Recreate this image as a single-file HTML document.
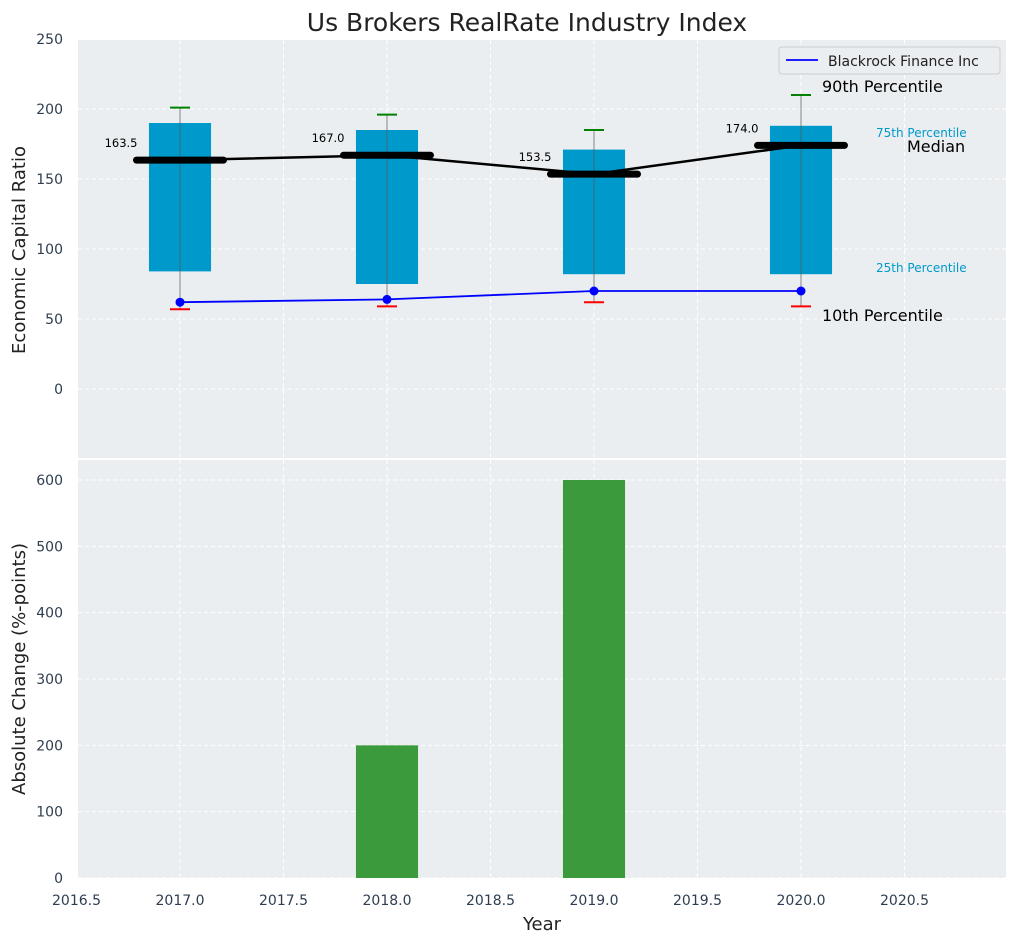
<!DOCTYPE html>
<html><head><meta charset="utf-8"><style>
body{margin:0;background:#fff;font-family:"Liberation Sans","DejaVu Sans",sans-serif;}
</style></head><body>
<svg id="c" width="1016" height="942" xmlns="http://www.w3.org/2000/svg" font-family="DejaVu Sans, Liberation Sans, sans-serif"></svg>
<script>
const years=[2017,2018,2019,2020];
const p10=[57,59,62,59];
const p25=[84,75,82,82];
const medians=[163.5,167.0,153.5,174.0];
const p75=[190,185,171,188];
const p90=[201,196,185,210];
const blackrock=[62,64,70,70];
const changes=[0,200,600,0];
const xTicks=[2016.5,2017,2017.5,2018,2018.5,2019,2019.5,2020,2020.5];
const yTopTicks=[0,50,100,150,200,250];
const yBotTicks=[0,100,200,300,400,500,600];

const svg=document.getElementById('c');
const NS='http://www.w3.org/2000/svg';
function el(t,a,txt){const e=document.createElementNS(NS,t);for(const k in a)e.setAttribute(k,a[k]);if(txt!==undefined)e.textContent=txt;svg.appendChild(e);return e;}
const L=78,R=1006;
const X=v=>180+(v-2017)*207;
const T1=40,B1=458,T2=460,B2=878;
const Yt=v=>389-v*1.4;
const Yb=v=>878-v*(398/600);

let e;
e=el('rect',{x:L,y:T1,width:R-L,height:B1-T1,fill:'#eaeef0'});

e=el('rect',{x:L,y:T2,width:R-L,height:B2-T2,fill:'#eaeef0'});

xTicks.forEach(t=>{
 el('line',{x1:X(t),x2:X(t),y1:T1,y2:B1,stroke:'#fff','stroke-dasharray':'4,3','stroke-width':1});
 el('line',{x1:X(t),x2:X(t),y1:T2,y2:B2,stroke:'#fff','stroke-dasharray':'4,3','stroke-width':1});
 e=el('text',{x:X(t),y:905,'font-size':14,fill:'#2e3e50','text-anchor':'middle'},t.toFixed(1));
 
});
yTopTicks.forEach(t=>{
 el('line',{x1:L,x2:R,y1:Yt(t),y2:Yt(t),stroke:'#fff','stroke-dasharray':'4,3'});
 e=el('text',{x:63,y:Yt(t)+5,'font-size':14,fill:'#2e3e50','text-anchor':'end'},t);
 
});
yBotTicks.forEach(t=>{
 el('line',{x1:L,x2:R,y1:Yb(t),y2:Yb(t),stroke:'#fff','stroke-dasharray':'4,3'});
 e=el('text',{x:63,y:Yb(t)+5,'font-size':14,fill:'#2e3e50','text-anchor':'end'},t);
 
});
years.forEach((y,i)=>{
 e=el('rect',{x:X(y-0.15),y:Yt(p75[i]),width:X(y+0.15)-X(y-0.15),height:Yt(p25[i])-Yt(p75[i]),fill:'#0099cc'});
 
 el('line',{x1:X(y),x2:X(y),y1:Yt(p90[i]),y2:Yt(p10[i]),stroke:'#555','stroke-opacity':0.7,'stroke-width':1});
 e=el('line',{x1:X(y)-10,x2:X(y)+10,y1:Yt(p90[i]),y2:Yt(p90[i]),stroke:'green','stroke-width':2});
 
 e=el('line',{x1:X(y)-10,x2:X(y)+10,y1:Yt(p10[i]),y2:Yt(p10[i]),stroke:'red','stroke-width':2});
 
});
e=el('polyline',{points:years.map((y,i)=>X(y)+','+Yt(medians[i])).join(' '),fill:'none',stroke:'#000','stroke-width':2.5});

years.forEach((y,i)=>{
 e=el('line',{x1:X(y-0.21),x2:X(y+0.21),y1:Yt(medians[i]),y2:Yt(medians[i]),stroke:'#000','stroke-width':7,'stroke-linecap':'round'});
 
 e=el('text',{x:X(y-0.21)+1,y:Yt(medians[i])-13,'font-size':11.5,fill:'#000','text-anchor':'end'},medians[i].toFixed(1));
 
});
e=el('polyline',{points:years.map((y,i)=>X(y)+','+Yt(blackrock[i])).join(' '),fill:'none',stroke:'blue','stroke-width':1.8});

years.forEach((y,i)=>{e=el('circle',{cx:X(y),cy:Yt(blackrock[i]),r:4.5,fill:'blue'});
 });
const lab=[['90th Percentile',822,92,16,'#000'],['75th Percentile',876,137,12,'#0099cc'],['Median',907,152,16,'#000'],['25th Percentile',876,272,12,'#0099cc'],['10th Percentile',822,321,16,'#000']];
lab.forEach(l=>{e=el('text',{x:l[1],y:l[2],'font-size':l[3],fill:l[4]},l[0]);
 });
e=el('rect',{x:779,y:47,width:221,height:27,rx:3,fill:'#eaeef0',stroke:'#ccc'});

el('line',{x1:786,x2:818,y1:60,y2:60,stroke:'blue','stroke-width':1.8});
e=el('text',{x:828,y:66,'font-size':14,fill:'#222'},'Blackrock Finance Inc');

years.forEach((y,i)=>{ if(changes[i]<=0)return;
 e=el('rect',{x:X(y-0.15),y:Yb(changes[i]),width:X(y+0.15)-X(y-0.15),height:Yb(0)-Yb(changes[i]),fill:'#3a9a3c'});
 });
e=el('text',{x:527,y:31,'font-size':25,fill:'#222','text-anchor':'middle'},'Us Brokers RealRate Industry Index');

e=el('text',{x:542,y:930,'font-size':18,fill:'#222','text-anchor':'middle'},'Year');

e=el('text',{x:25,y:250,'font-size':18,fill:'#222','text-anchor':'middle',transform:'rotate(-90 25 250)'},'Economic Capital Ratio');

e=el('text',{x:25,y:669,'font-size':18,fill:'#222','text-anchor':'middle',transform:'rotate(-90 25 669)'},'Absolute Change (%-points)');

</script>
</body></html>
